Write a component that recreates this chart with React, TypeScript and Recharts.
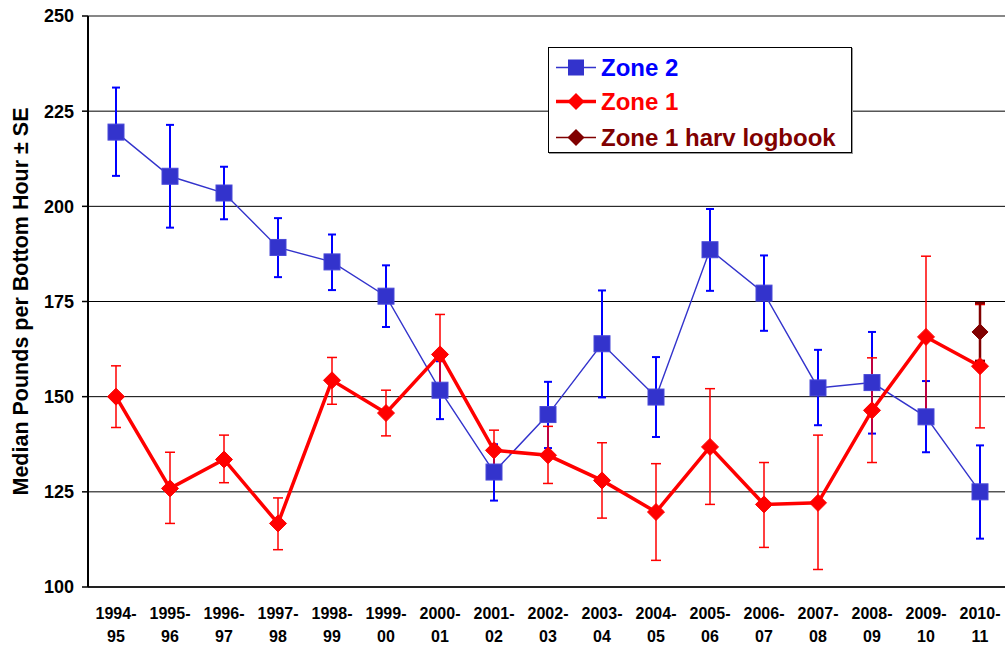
import React from 'react';
import { LineChart, Line, XAxis, YAxis, CartesianGrid, ErrorBar, Legend, ReferenceLine } from 'recharts';

const categories = [
  '1994-95', '1995-96', '1996-97', '1997-98', '1998-99', '1999-00', '2000-01', '2001-02', '2002-03',
  '2003-04', '2004-05', '2005-06', '2006-07', '2007-08', '2008-09', '2009-10', '2010-11',
];

const zone2 = [219.5, 207.9, 203.5, 189.2, 185.4, 176.4, 151.7, 130.2, 145.3, 163.9, 149.9, 188.6, 177.2, 152.3, 153.7, 144.7, 125.0];
const zone2High = [231.2, 221.4, 210.4, 196.9, 192.6, 184.5, 159.3, 137.5, 153.9, 177.9, 160.4, 199.3, 187.1, 162.3, 167.0, 154.1, 137.2];
const zone2Low = [208.0, 194.4, 196.6, 181.4, 178.0, 168.3, 144.1, 122.7, 136.5, 149.8, 139.4, 177.8, 167.3, 142.5, 140.3, 135.4, 112.7];

const zone1 = [150.0, 125.9, 133.5, 116.7, 154.3, 145.7, 161.1, 135.9, 134.6, 128.0, 119.7, 136.8, 121.7, 122.1, 146.4, 165.7, 158.0];
const zone1High = [158.1, 135.4, 139.9, 123.4, 160.3, 151.7, 171.6, 141.2, 142.2, 137.9, 132.4, 152.1, 132.7, 139.9, 160.2, 186.9, 174.2];
const zone1Low = [141.9, 116.7, 127.4, 109.8, 148.0, 139.7, 150.6, 130.6, 127.2, 118.1, 107.0, 121.7, 110.4, 104.6, 132.7, 144.5, 141.8];

const logbook: (number | null)[] = [null, null, null, null, null, null, null, null, null, null, null, null, null, null, null, null, 167.0];
const logbookHigh: (number | null)[] = [null, null, null, null, null, null, null, null, null, null, null, null, null, null, null, null, 174.6];
const logbookLow: (number | null)[] = [null, null, null, null, null, null, null, null, null, null, null, null, null, null, null, null, 159.4];

const yTicks = [100, 125, 150, 175, 200, 225, 250];

const seriesNames = ['Zone 2', 'Zone 1', 'Zone 1 harv logbook'];

const FONT = '"Liberation Sans", Arial, Helvetica, sans-serif';
const BLUE_LINE = '#3333CC';
const BLUE_ERR = '#0000FF';
const RED = '#FF0000';
const DARK_RED = '#800000';

const data = categories.map((cat, i) => ({
  cat,
  z2: zone2[i],
  z2Err: [zone2[i] - zone2Low[i], zone2High[i] - zone2[i]],
  z1: zone1[i],
  z1Err: [zone1[i] - zone1Low[i], zone1High[i] - zone1[i]],
  lb: logbook[i],
  lbErr:
    logbook[i] == null ? null : [(logbook[i] as number) - (logbookLow[i] as number), (logbookHigh[i] as number) - (logbook[i] as number)],
}));

const SquareDot = (props: any) => {
  const { cx, cy, index } = props;
  if (cx == null || cy == null || isNaN(cy)) return <g key={`sq-${index}`} />;
  return <rect key={`sq-${index}`} x={cx - 8} y={cy - 8} width={16} height={16} fill={BLUE_LINE} stroke="#4848D8" strokeWidth={1} />;
};

const makeDiamond = (color: string, r: number, prefix: string) => (props: any) => {
  const { cx, cy, index } = props;
  if (cx == null || cy == null || isNaN(cy)) return <g key={`${prefix}-${index}`} />;
  return (
    <polygon
      key={`${prefix}-${index}`}
      points={`${cx},${cy - r} ${cx + r},${cy} ${cx},${cy + r} ${cx - r},${cy}`}
      fill={color}
      stroke={color}
      strokeWidth={1}
    />
  );
};

const RedDiamond = makeDiamond(RED, 8.5, 'rd');
const DarkDiamond = makeDiamond(DARK_RED, 8, 'dd');

const XTick = (props: any) => {
  const { x, y, payload } = props;
  const parts = String(payload.value).split('-');
  return (
    <text
      x={x}
      y={y}
      textAnchor="middle"
      fill="#000"
      style={{ fontSize: 16, fontWeight: 'bold', fontFamily: FONT }}
    >
      <tspan x={x} dy={31.5}>{parts[0]}-</tspan>
      <tspan x={x} dy={23.5}>{parts[1]}</tspan>
    </text>
  );
};

const legendStyles = [
  { text: BLUE_ERR, icon: 'square', line: BLUE_LINE, lw: 1.5 },
  { text: RED, icon: 'diamond', line: RED, lw: 3.5 },
  { text: DARK_RED, icon: 'diamond', line: DARK_RED, lw: 1.5 },
];

const LegendContent = () => {
  const centers = [19.7, 53.7, 89.7];
  return (
    <div
      style={{
        position: 'relative',
        width: 304,
        height: 106,
        boxSizing: 'border-box',
        border: '1.5px solid #000',
        background: '#fff',
        boxShadow: '1px 1px 0 #999',
      }}
    >
      {seriesNames.map((name, i) => {
        const st = legendStyles[i];
        const c = centers[i];
        return (
          <div key={name} style={{ position: 'absolute', left: 0, top: c - 17.5, height: 35, width: 300 }}>
            <svg width={44} height={35} style={{ position: 'absolute', left: 6, top: 0 }}>
              <line x1={1} y1={17.5} x2={41} y2={17.5} stroke={st.line} strokeWidth={st.lw} />
              {st.icon === 'square' ? (
                <rect x={13} y={9.5} width={16} height={16} fill={BLUE_LINE} />
              ) : (
                <polygon points={`21,9 29.5,17.5 21,26 12.5,17.5`} fill={st.line} />
              )}
            </svg>
            <span
              style={{
                position: 'absolute',
                left: 52,
                top: 0,
                lineHeight: '35px',
                fontFamily: FONT,
                fontWeight: 'bold',
                fontSize: 24,
                color: st.text,
                whiteSpace: 'nowrap',
              }}
            >
              {name}
            </span>
          </div>
        );
      })}
    </div>
  );
};

const YLabel = () => (
  <text
    x={21}
    y={301.5}
    transform="rotate(-90 21 301.5)"
    textAnchor="middle"
    dominantBaseline="central"
    fontFamily={FONT}
    fontWeight="bold"
    fontSize={21.5}
    fill="#000"
  >
    Median Pounds per Bottom Hour ± SE
  </text>
);

export default function App() {
  return (
    <div style={{ position: 'absolute', left: 0, top: 0, width: 1005, height: 646, background: '#fff' }}>
      <LineChart width={1005} height={646} data={data} margin={{ top: 16, right: 0, bottom: 0, left: 0 }}>
        <CartesianGrid horizontal vertical={false} stroke="#000" strokeWidth={1} />
        <ReferenceLine y={250} stroke="#8a8a8a" strokeWidth={1.5} />
        <XAxis
          dataKey="cat"
          type="category"
          interval={0}
          height={59}
          padding={{ left: 28, right: 25 }}
          tickLine={false}
          tickSize={0}
          tickMargin={0}
          tick={<XTick />}
          axisLine={{ stroke: '#222', strokeWidth: 2 }}
        />
        <YAxis
          type="number"
          domain={[100, 250]}
          allowDataOverflow
          ticks={yTicks}
          interval={0}
          width={88}
          tickSize={6}
          tickMargin={8}
          tickLine={{ stroke: '#000', strokeWidth: 1.5 }}
          axisLine={{ stroke: '#000', strokeWidth: 2 }}
          tick={{ fill: '#000', fontSize: 18, fontWeight: 'bold', fontFamily: FONT }}
          label={{ content: () => <YLabel /> }}
        />
        {/* error bars drawn beneath all markers */}
        <Line dataKey="z2" stroke="none" dot={false} activeDot={false} legendType="none" isAnimationActive={false}>
          <ErrorBar dataKey="z2Err" width={4} stroke={BLUE_ERR} strokeWidth={2} direction="y" isAnimationActive={false} />
        </Line>
        <Line dataKey="z1" stroke="none" dot={false} activeDot={false} legendType="none" isAnimationActive={false}>
          <ErrorBar dataKey="z1Err" width={5} stroke={RED} strokeWidth={1.5} direction="y" isAnimationActive={false} />
        </Line>
        <Line dataKey="lb" stroke="none" dot={false} activeDot={false} legendType="none" isAnimationActive={false}>
          <ErrorBar dataKey="lbErr" width={5} stroke={DARK_RED} strokeWidth={2.5} direction="y" isAnimationActive={false} />
        </Line>
        <Line
          name={seriesNames[0]}
          dataKey="z2"
          stroke={BLUE_LINE}
          strokeWidth={1.4}
          dot={SquareDot}
          activeDot={false}
          isAnimationActive={false}
        />
        <Line
          name={seriesNames[1]}
          dataKey="z1"
          stroke={RED}
          strokeWidth={3.5}
          dot={RedDiamond}
          activeDot={false}
          isAnimationActive={false}
        />
        <Line
          name={seriesNames[2]}
          dataKey="lb"
          stroke={DARK_RED}
          strokeWidth={1.5}
          dot={DarkDiamond}
          activeDot={false}
          isAnimationActive={false}
        />
        <Legend
          layout="vertical"
          align="center"
          verticalAlign="middle"
          content={<LegendContent />}
          wrapperStyle={{ left: 548, top: 47, width: 304, height: 106 }}
        />
      </LineChart>
    </div>
  );
}
